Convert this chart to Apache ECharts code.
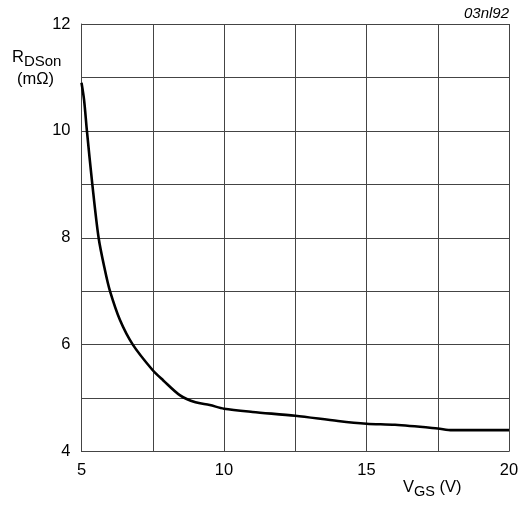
<!DOCTYPE html>
<html>
<head>
<meta charset="utf-8">
<script src="https://cdn.jsdelivr.net/npm/echarts@6/dist/echarts.min.js"></script>
<style>html,body{margin:0;padding:0;background:#fff}#c{width:526px;height:505px}</style>
</head>
<body>
<div id="c"></div>
<script>
const vgs = [5.0, 5.09, 5.19, 5.38, 5.6, 5.82, 6.0, 6.35, 6.8, 7.5, 7.87, 8.46, 9.0, 9.5, 10, 11, 12.5, 14, 15, 16, 17.5, 18, 20];
const rdson = [10.9, 10.58, 10.0, 9.0, 8.0, 7.4, 7.0, 6.46, 6.0, 5.52, 5.33, 5.05, 4.92, 4.87, 4.80, 4.74, 4.67, 4.57, 4.52, 4.50, 4.43, 4.40, 4.40];
const xTicks = [5, 10, 15, 20];
const yTicks = [4, 6, 8, 10, 12];

const chart = echarts.init(document.getElementById('c'));
const font = 'Liberation Sans, Arial, sans-serif';
const lineCol = '#444';
chart.setOption({
  animation: false,
  grid: {left: 81.5, right: 17, top: 24, bottom: 53.5},
  xAxis: {
    type: 'value', min: 5, max: 20, interval: 2.5,
    axisLine: {lineStyle: {color: lineCol, width: 1}},
    axisTick: {show: false},
    splitLine: {lineStyle: {color: lineCol, width: 1}},
    axisLabel: {color: '#000', fontSize: 16.5, fontFamily: font, margin: 10,
      formatter: v => xTicks.indexOf(v) >= 0 ? String(v) : ''}
  },
  yAxis: {
    type: 'value', min: 4, max: 12, interval: 1,
    axisLine: {lineStyle: {color: lineCol, width: 1}},
    axisTick: {show: false},
    splitLine: {lineStyle: {color: lineCol, width: 1}},
    axisLabel: {color: '#000', fontSize: 16.5, fontFamily: font, margin: 11,
      formatter: v => yTicks.indexOf(v) >= 0 ? String(v) : ''}
  },
  series: [{
    type: 'line',
    data: vgs.map((x, i) => [x, rdson[i]]),
    showSymbol: false,
    smooth: 0.3,
    lineStyle: {color: '#000', width: 2.6}
  }],
  graphic: [
    {type: 'text', left: 12, top: 49, style: {
      text: '{a|R}{b|DSon}', fill: '#000',
      rich: {a: {fontSize: 16.5, fontFamily: font, fill: '#000'}, b: {fontSize: 15, fontFamily: font, fill: '#000', padding: [9, 0, 0, 0]}}
    }},
    {type: 'text', left: 17, top: 71, style: {text: '(mΩ)', fontSize: 16.5, fontFamily: font, fill: '#000'}},
    {type: 'text', right: 17, top: 6, style: {text: '03nl92', fontSize: 15, fontFamily: font, fontStyle: 'italic', fill: '#000'}},
    {type: 'text', left: 403, top: 479, style: {
      text: '{a|V}{b|GS}{a| (V)}', fill: '#000',
      rich: {a: {fontSize: 16.5, fontFamily: font, fill: '#000'}, b: {fontSize: 14.5, fontFamily: font, fill: '#000', padding: [8, 0, 0, 0]}}
    }}
  ]
});
</script>
</body>
</html>
